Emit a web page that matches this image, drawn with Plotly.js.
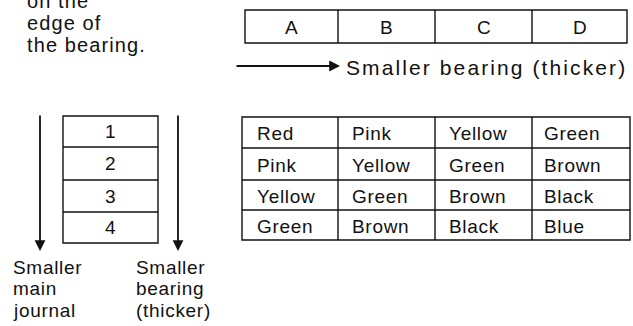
<!DOCTYPE html>
<html>
<head>
<meta charset="utf-8">
<script src="https://cdn.plot.ly/plotly-3.0.1.min.js"></script>
<style>
html,body{margin:0;padding:0;background:#fff;}
#chart{width:633px;height:326px;}
</style>
</head>
<body>
<div id="chart"></div>
<script>
// ---- data ----
const noteLines = ['on the', 'edge of', 'the bearing.'];
const colLabels = ['A', 'B', 'C', 'D'];
const rowLabels = ['1', '2', '3', '4'];
const colorRow1 = ['Red', 'Pink', 'Yellow', 'Green'];
const colorRow2 = ['Pink', 'Yellow', 'Green', 'Brown'];
const colorRow3 = ['Yellow', 'Green', 'Brown', 'Black'];
const colorRow4 = ['Green', 'Brown', 'Black', 'Blue'];
const arrowTextH = 'Smaller bearing (thicker)';
const leftLabel = ['Smaller', 'main', 'journal'];
const rightLabel = ['Smaller', 'bearing', '(thicker)'];

// ---- layout geometry ----
const FONT = {family: 'Liberation Sans, Arial, Helvetica, sans-serif', size: 19, color: '#111'};
const LW = 1.4;
const topBox = {x0: 245, x1: 627, y0: 10, y1: 43};
const topCols = [245, 338, 435, 532, 627];
const numBox = {x0: 63, x1: 158};
const numRows = [116, 147, 180, 212, 243];
const tblCols = [242, 338, 435, 532, 630];
const tblRows = [117, 148, 180, 210, 240];
const tblTextX = [255, 350, 447, 542];

const shapes = [];
const ann = [];
function rect(x0, y0, x1, y1) {
  shapes.push({type: 'rect', xref: 'x', yref: 'y', x0, y0, x1, y1, line: {color: '#111', width: LW}, fillcolor: 'rgba(0,0,0,0)'});
}
function line(x0, y0, x1, y1) {
  shapes.push({type: 'line', xref: 'x', yref: 'y', x0, y0, x1, y1, line: {color: '#111', width: LW}});
}
function text(t, x, y, xanchor, size) {
  const f = Object.assign({}, FONT);
  if (size) f.size = size;
  ann.push({text: t, x, y, xref: 'x', yref: 'y', showarrow: false, xanchor: xanchor || 'left', yanchor: 'middle', font: f});
}
function arrow(x0, y0, x1, y1) {
  ann.push({text: '', x: x1, y: y1, ax: x0, ay: y0, xref: 'x', yref: 'y', axref: 'x', ayref: 'y',
    showarrow: true, arrowhead: 2, arrowsize: 1.2, arrowwidth: 1.8, arrowcolor: '#111', standoff: 0, startstandoff: 0});
}

// top-left note
noteLines.forEach((t, i) => text(t, 25, 1 + i * 22, 'left', 20));

// top column box
rect(topBox.x0, topBox.y0, topBox.x1, topBox.y1);
for (let i = 1; i < topCols.length - 1; i++) line(topCols[i], topBox.y0, topCols[i], topBox.y1);
colLabels.forEach((t, i) => text(t, (topCols[i] + topCols[i + 1]) / 2, (topBox.y0 + topBox.y1) / 2 + 0.5, 'center'));

// horizontal arrow + label
arrow(235, 66, 340, 66);
text(arrowTextH, 344, 67, 'left', 21);

// number box
rect(numBox.x0, numRows[0], numBox.x1, numRows[numRows.length - 1]);
for (let i = 1; i < numRows.length - 1; i++) line(numBox.x0, numRows[i], numBox.x1, numRows[i]);
rowLabels.forEach((t, i) => text(t, (numBox.x0 + numBox.x1) / 2, (numRows[i] + numRows[i + 1]) / 2, 'center'));

// vertical arrows
arrow(40, 114, 40, 251);
arrow(178, 114, 178, 251);

// colour table
rect(tblCols[0], tblRows[0], tblCols[4], tblRows[4]);
for (let i = 1; i < 4; i++) line(tblCols[i], tblRows[0], tblCols[i], tblRows[4]);
for (let i = 1; i < 4; i++) line(tblCols[0], tblRows[i], tblCols[4], tblRows[i]);
[colorRow1, colorRow2, colorRow3, colorRow4].forEach((row, r) => {
  row.forEach((t, c) => text(t, tblTextX[c], (tblRows[r] + tblRows[r + 1]) / 2 + 1));
});

// bottom labels
leftLabel.forEach((t, i) => text(t, 11, 267 + i * 21.5));
rightLabel.forEach((t, i) => text(t, 134, 267 + i * 21.5));

const layout = {
  width: 633, height: 326,
  margin: {l: 0, r: 0, t: 0, b: 0, pad: 0},
  paper_bgcolor: '#fff', plot_bgcolor: '#fff',
  showlegend: false,
  xaxis: {range: [0, 633], visible: false, fixedrange: true},
  yaxis: {range: [326, 0], visible: false, fixedrange: true},
  shapes: shapes,
  annotations: ann
};

// widen letter spacing while keeping each text's left edge (or centre) in place
function spaceText(el, px, keep) {
  const b0 = el.getBoundingClientRect();
  el.style.letterSpacing = px + 'px';
  const b1 = el.getBoundingClientRect();
  const ref0 = keep === 'center' ? (b0.left + b0.right) / 2 : b0.left;
  const ref1 = keep === 'center' ? (b1.left + b1.right) / 2 : b1.left;
  const dx = ref0 - ref1;
  const x = parseFloat(el.getAttribute('x') || '0');
  el.setAttribute('x', x + dx);
  el.querySelectorAll('tspan[x]').forEach(ts => ts.setAttribute('x', parseFloat(ts.getAttribute('x')) + dx));
}

Plotly.newPlot('chart', [], layout, {staticPlot: true, displayModeBar: false}).then(() => {
  const centred = colLabels.concat(rowLabels);
  document.querySelectorAll('#chart .annotation-text').forEach(el => {
    const t = el.textContent;
    if (t === arrowTextH) spaceText(el, 2.1, 'left');
    else if (noteLines.indexOf(t) >= 0) spaceText(el, 1.1, 'left');
    else if (centred.indexOf(t) >= 0) {}
    else if (t) spaceText(el, 0.7, 'left');
  });
});
</script>
</body>
</html>
